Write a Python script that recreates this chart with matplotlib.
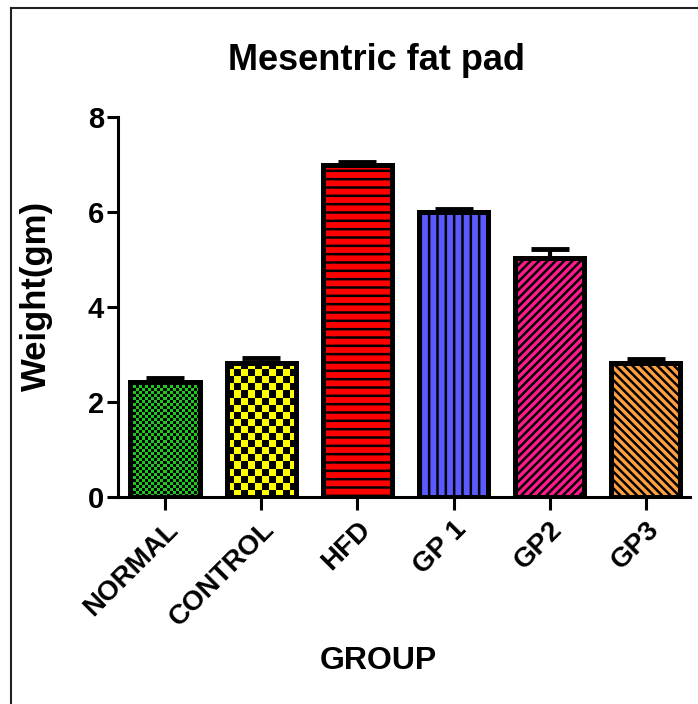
import numpy as np
import matplotlib
matplotlib.use("Agg")
import matplotlib.pyplot as plt
from matplotlib.lines import Line2D

plt.rcParams['font.family'] = ['Liberation Sans', 'DejaVu Sans']
plt.rcParams['font.weight'] = 'bold'
plt.rcParams['hatch.linewidth'] = 1.8

# group data
groups = ['NORMAL', 'CONTROL', 'HFD', 'GP 1', 'GP2', 'GP3']
weights = [2.42, 2.83, 6.98, 6.00, 5.03, 2.83]
errors = [0.08, 0.10, 0.08, 0.06, 0.19, 0.08]
colors = ['#1ec81e', '#ffff00', '#ff0000', '#5a5aff', '#ff1a8c', '#ffa040']
hatches = [None, None, '--', '||', '////', '\\\\\\\\']
# checker cell size in pixels (0 = no checker pattern)
checker_px = [3, 7, 0, 0, 0, 0]

fig = plt.figure(figsize=(6.98, 7.04), dpi=100)
ax = fig.add_axes([118 / 698, 1 - 497 / 704, (690 - 118) / 698, (497 - 117) / 704])

x = np.arange(len(groups))
ax.set_xlim(-0.49, 5.46)
ax.set_ylim(0, 8)

bars = ax.bar(x, weights, width=0.72, color=colors, edgecolor='black',
              linewidth=0, zorder=2)
for b, h in zip(bars, hatches):
    if h:
        b.set_hatch(h)

# checkerboard fill for the first two groups
for b, col, cpx in zip(bars, colors, checker_px):
    if not cpx:
        continue
    x0, y0 = b.get_x(), b.get_y()
    w, h = b.get_width(), b.get_height()
    p0 = ax.transData.transform((x0, y0))
    p1 = ax.transData.transform((x0 + w, y0 + h))
    nx = max(1, int(round(abs(p1[0] - p0[0]) / cpx)))
    ny = max(1, int(round(abs(p1[1] - p0[1]) / cpx)))
    board = (np.add.outer(np.arange(ny), np.arange(nx)) % 2).astype(float)
    cmap = matplotlib.colors.ListedColormap(['black', col])
    im = ax.imshow(board, cmap=cmap, extent=(x0, x0 + w, y0, y0 + h),
                   interpolation='nearest', aspect='auto', zorder=2.5,
                   origin='lower')
    im.set_clip_path(b)

# bar outlines on top
ax.bar(x, weights, width=0.72, fill=False, edgecolor='black', linewidth=3.6,
       zorder=3)

# upper error bars only
ax.errorbar(x, weights, yerr=[np.zeros(len(errors)), errors], fmt='none',
            ecolor='black', elinewidth=3, capsize=14, capthick=3.5, zorder=1)

ax.set_xticks(x)
ax.set_xticklabels(groups, rotation=45, ha='right', rotation_mode='anchor',
                   fontsize=20, fontweight='bold')
ax.set_yticks([0, 2, 4, 6, 8])
ax.set_yticklabels(['0', '2', '4', '6', '8'], fontsize=21, fontweight='bold')
ax.tick_params(axis='x', length=9, width=2.2, pad=5)
ax.tick_params(axis='y', length=8, width=2.2, pad=2)

for s in ['top', 'right']:
    ax.spines[s].set_visible(False)
for s in ['left', 'bottom']:
    ax.spines[s].set_linewidth(2.2)

ax.set_ylabel('Weight(gm)', fontsize=25, fontweight='bold')
ax.yaxis.label.set_va('center')
ax.yaxis.set_label_coords(-0.142, 0.529)
fig.text(377 / 698, 1 - 60 / 704, 'Mesentric fat pad', ha='center', va='center',
         fontsize=26, fontweight='bold')
fig.text(378 / 698, 1 - 661 / 704, 'GROUP', ha='center', va='center',
         fontsize=23, fontweight='bold')

# outer frame
fig.add_artist(Line2D([11 / 698, 1], [1 - 8 / 704, 1 - 8 / 704], color='#222222',
                      lw=1.5, transform=fig.transFigure))
fig.add_artist(Line2D([11 / 698, 11 / 698], [0, 1 - 8 / 704], color='#222222',
                      lw=1.5, transform=fig.transFigure))

fig.savefig('out.png', dpi=100)
